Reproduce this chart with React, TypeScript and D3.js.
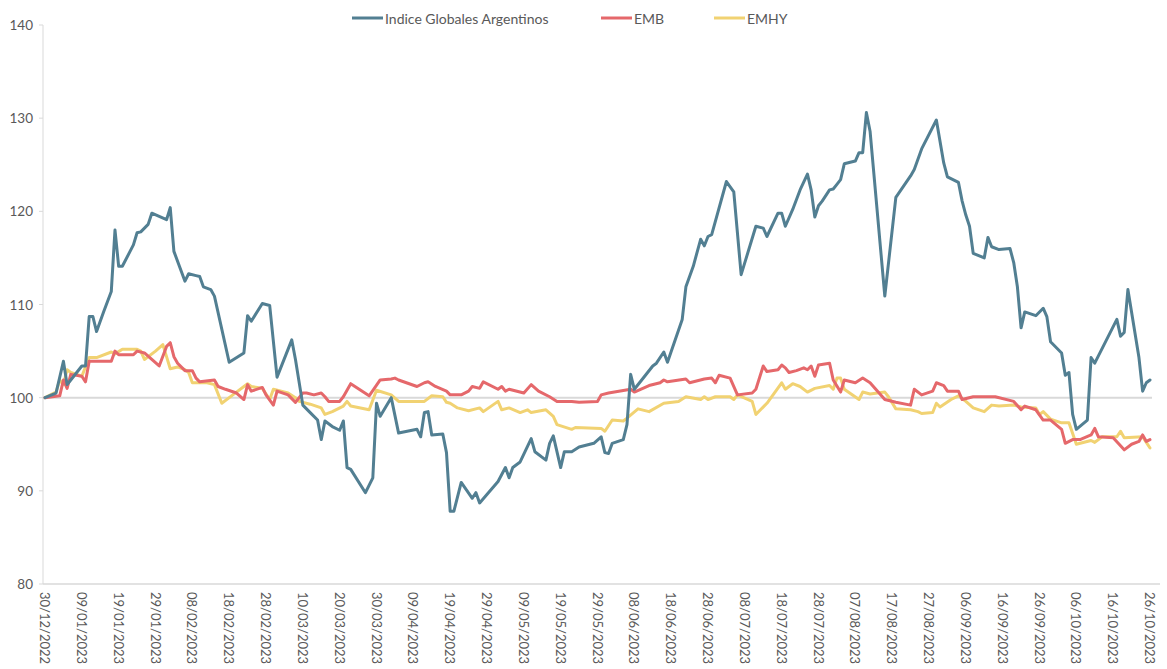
import React from "react";
import * as d3 from "d3";

// Days since 30/12/2022 and index values
const baseDate = "2022-12-30";
const endDay = 300;

const indiceDays = [0,3,5,6,7,10,11,12,13,14,16,18,19,20,21,24,25,26,28,29,33,34,35,38,39,41,42,43,45,46,50,54,55,56,59,61,63,67,68,70,72,74,75,76,78,80,81,82,83,87,89,90,91,94,96,101,102,103,104,105,108,109,110,111,113,116,117,118,123,125,126,127,129,132,133,136,137,138,140,141,143,145,149,151,152,153,154,157,158,159,160,162,165,166,168,169,173,174,176,178,179,180,181,185,187,189,193,195,196,199,200,201,203,205,207,208,209,210,211,213,214,215,216,217,220,221,222,223,224,228,231,235,236,238,242,244,245,248,249,250,251,252,255,256,257,259,262,263,264,265,266,269,271,272,273,276,277,278,279,280,283,284,285,291,292,293,294,297,298,299,300];
const indiceVals = [100.0,100.5,103.9,101.4,101.9,103.4,103.4,108.7,108.7,107.1,109.3,111.4,118.0,114.1,114.1,116.4,117.7,117.8,118.6,119.8,119.1,120.4,115.7,112.5,113.3,113.1,113.0,111.9,111.6,110.9,103.8,104.8,108.8,108.2,110.1,109.9,102.2,106.2,104.1,99.2,98.4,97.6,95.5,97.5,96.9,96.5,97.5,92.5,92.3,89.8,91.4,99.4,98.0,100.0,96.2,96.6,95.8,98.4,98.5,96.0,96.1,94.1,87.8,87.8,90.9,89.2,89.8,88.7,91.0,92.5,91.4,92.5,93.1,95.6,94.2,93.3,95.1,95.9,92.5,94.2,94.2,94.7,95.1,95.8,94.1,94.0,95.1,95.5,97.1,102.5,100.9,101.9,103.4,103.7,104.9,103.8,108.4,111.9,114.1,117.0,116.3,117.3,117.5,123.2,122.1,113.2,118.4,118.2,117.3,119.8,119.8,118.4,120.2,122.3,124.0,122.3,119.4,120.6,121.1,122.3,122.4,122.9,123.4,125.1,125.4,126.3,126.3,130.6,128.6,110.9,121.5,123.8,124.5,126.7,129.8,125.2,123.7,123.1,121.1,119.6,118.4,115.5,115.0,117.2,116.2,115.9,116.0,114.5,111.9,107.5,109.2,108.8,109.6,108.7,106.0,104.8,102.4,102.7,98.2,96.6,97.6,104.3,103.7,108.4,106.6,107.0,111.6,104.3,100.7,101.6,101.9];

const embDays = [0,4,5,6,7,10,11,12,14,18,19,20,24,25,27,29,31,33,34,35,36,38,40,41,42,46,47,49,52,54,55,56,59,60,62,63,66,68,70,71,73,75,76,77,80,81,83,88,91,94,95,96,101,103,104,106,109,110,113,115,116,118,119,123,124,125,126,130,132,134,137,139,143,145,150,151,153,159,160,164,167,168,169,174,175,179,181,182,183,186,188,192,193,195,196,199,200,201,202,204,206,207,208,209,210,213,214,216,217,220,222,224,228,231,235,236,238,241,242,244,245,248,249,252,258,263,265,266,269,271,273,276,277,279,281,284,285,286,290,293,295,297,298,299,300];
const embVals = [100.0,100.2,101.9,101.0,102.5,102.3,101.7,103.9,103.9,103.9,105.0,104.6,104.6,105.0,104.8,104.1,103.4,105.5,105.9,104.4,103.7,102.9,102.9,102.1,101.7,101.9,101.2,100.9,100.5,99.8,101.4,100.7,101.1,100.3,99.2,100.7,100.3,99.5,100.5,100.5,100.3,100.5,100.1,99.6,99.6,100.1,101.5,100.2,101.9,102.0,102.1,101.9,101.2,101.6,101.7,101.2,100.7,100.3,100.3,100.7,101.2,101.0,101.7,100.9,101.2,100.7,100.9,100.5,101.4,100.7,100.1,99.6,99.6,99.5,99.6,100.3,100.5,100.9,100.6,101.3,101.6,101.9,101.7,102.0,101.6,102.0,102.1,101.6,102.4,102.1,100.3,100.5,100.9,103.4,102.8,103.0,103.5,103.2,102.7,102.9,103.2,103.0,103.4,102.3,103.5,103.7,101.9,100.6,101.9,101.6,102.1,101.6,99.8,99.5,99.2,100.9,100.3,100.7,101.6,101.3,100.7,100.7,99.8,100.1,100.1,99.6,98.7,99.1,98.7,97.6,97.6,96.6,95.1,95.5,95.5,96.0,96.7,95.8,95.7,94.4,95.0,95.3,96.0,95.3,95.5];

const emhyDays = [0,3,4,5,6,7,10,12,14,18,19,21,25,26,27,30,32,33,34,36,38,39,40,42,44,46,48,51,55,56,59,61,62,66,68,69,72,75,76,78,81,82,83,88,90,94,96,103,105,108,109,110,112,115,118,119,123,124,126,129,131,132,136,138,139,143,144,151,152,154,157,158,161,164,168,172,174,178,179,180,182,186,187,188,192,193,196,200,201,203,205,207,209,213,214,215,216,217,221,222,224,228,229,231,235,237,238,241,242,243,246,248,250,252,255,257,259,263,265,269,270,271,273,276,278,280,284,285,287,291,292,293,298,299,300];
const emhyVals = [100.0,100.6,101.9,101.4,103.0,102.7,102.3,104.3,104.3,104.9,104.7,105.2,105.2,105.0,104.1,105.0,105.7,104.4,103.1,103.3,103.0,102.7,101.6,101.6,101.6,101.4,99.4,100.3,101.5,101.2,101.0,99.8,100.9,100.5,100.0,99.6,99.3,98.9,98.2,98.5,99.1,99.6,99.1,98.7,100.8,100.3,99.6,99.6,100.2,100.1,99.5,99.4,98.9,98.6,98.9,98.5,99.6,98.7,98.9,98.4,98.7,98.4,98.7,98.0,97.1,96.6,96.8,96.7,96.4,97.6,97.5,97.8,98.8,98.5,99.4,99.6,100.1,99.8,100.1,99.8,100.1,100.1,99.8,100.3,99.6,98.2,99.4,101.6,100.9,101.5,101.2,100.6,101.0,101.3,100.9,102.1,102.1,100.9,99.8,100.6,100.4,100.6,100.1,98.8,98.7,98.5,98.3,98.4,99.4,99.0,99.8,100.2,99.6,98.9,98.5,99.2,99.1,99.2,99.0,98.9,98.2,98.5,97.7,97.3,97.3,95.0,95.4,95.2,95.8,95.8,96.4,95.7,95.8,95.2,94.6];

const seriesNames = ["Indice Globales Argentinos", "EMB", "EMHY"];
const seriesColors = ["#527f92", "#e5686b", "#f1d272"];
const yTicks = [80, 90, 100, 110, 120, 130, 140];
const tickStepDays = 10;

const W = 1167;
const H = 669;
const FONT = "Lato, 'Open Sans', sans-serif";

export default function App() {
  const base = new Date(baseDate + "T00:00:00Z");
  const toDate = (d: number) => d3.utcDay.offset(base, d);
  const x = d3.scaleUtc().domain([base, toDate(endDay)]).range([45, 1150]);
  const y = d3.scaleLinear().domain([80, 140]).range([584, 25]);

  const mk = (days: number[], vals: number[]) =>
    days.map((d, i) => ({ date: toDate(d), v: vals[i] }));
  const series = [
    mk(indiceDays, indiceVals),
    mk(embDays, embVals),
    mk(emhyDays, emhyVals),
  ];
  const line = d3
    .line<{ date: Date; v: number }>()
    .x((p) => x(p.date))
    .y((p) => y(p.v));

  const xTicks = d3.range(0, endDay + 1, tickStepDays).map(toDate);
  const fmt = d3.utcFormat("%d/%m/%Y");

  const legendX = [352, 601, 714];

  return (
    <svg
      width={W}
      height={H}
      style={{ position: "absolute", left: 0, top: 0, background: "#fff" }}
      fontFamily={FONT}
    >
      {/* axes */}
      <line x1={43} x2={43} y1={25} y2={584} stroke="#d9d9d9" strokeWidth={1} />
      <line x1={43} x2={1160} y1={584} y2={584} stroke="#d9d9d9" strokeWidth={1.5} />
      {yTicks.map((t) => (
        <g key={t}>
          <line x1={39} x2={43} y1={y(t)} y2={y(t)} stroke="#d9d9d9" />
          <text
            x={33}
            y={y(t)}
            textAnchor="end"
            dominantBaseline="central"
            fontSize={13.5}
            fill="#595959"
          >
            {t}
          </text>
        </g>
      ))}
      {/* reference line at 100 */}
      <line x1={43} x2={1152} y1={y(100)} y2={y(100)} stroke="#d9d9d9" strokeWidth={2} />
      {xTicks.map((t, i) => (
        <text
          key={i}
          transform={`translate(${x(t)},592) rotate(90)`}
          textAnchor="start"
          dominantBaseline="central"
          fontSize={13}
          fill="#595959"
        >
          {fmt(t)}
        </text>
      ))}
      {/* series: draw yellow, red, then blue on top */}
      {[2, 1, 0].map((i) => (
        <path
          key={i}
          d={line(series[i]) || ""}
          fill="none"
          stroke={seriesColors[i]}
          strokeWidth={3}
          strokeLinejoin="round"
          strokeLinecap="round"
        />
      ))}
      {/* legend */}
      {seriesNames.map((n, i) => (
        <g key={n}>
          <line
            x1={legendX[i]}
            x2={legendX[i] + 31}
            y1={18}
            y2={18}
            stroke={seriesColors[i]}
            strokeWidth={3}
          />
          <text
            x={legendX[i] + 33}
            y={18}
            dominantBaseline="central"
            fontSize={14}
            fill="#595959"
          >
            {n}
          </text>
        </g>
      ))}
    </svg>
  );
}
